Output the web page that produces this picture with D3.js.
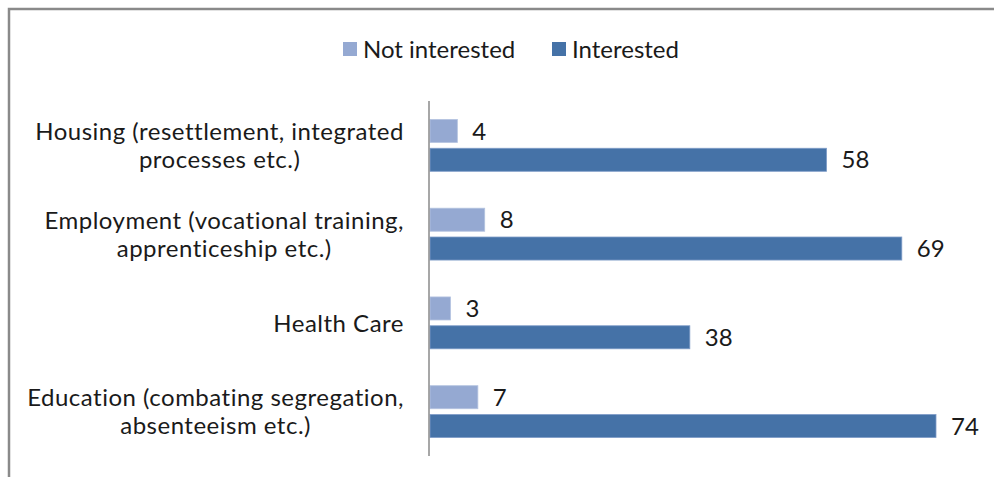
<!DOCTYPE html>
<html>
<head>
<meta charset="utf-8">
<script src="https://cdn.jsdelivr.net/npm/d3@7/dist/d3.min.js"></script>
<style>
  html, body { margin: 0; padding: 0; background: #fff; }
  svg { display: block; }
  text { font-family: Lato, "Open Sans", sans-serif; fill: #1a1a1a; }
</style>
</head>
<body>
<svg id="chart" width="994" height="477"></svg>
<script>
const categories = [
  ["Housing (resettlement, integrated", "processes etc.)"],
  ["Employment (vocational training,", "apprenticeship etc.)"],
  ["Health Care"],
  ["Education (combating segregation,", "absenteeism etc.)"]
];
const seriesNames = ["Not interested", "Interested"];
const notInterested = [4, 8, 3, 7];
const interested = [58, 69, 38, 74];
const seriesColors = ["#95A9D2", "#4572A7"];

const svg = d3.select("#chart");
const W = 994, H = 477;
const fontSize = 24;

// frame
svg.append("rect")
  .attr("x", 9).attr("y", 9)
  .attr("width", W + 20).attr("height", H + 20)
  .attr("fill", "#fff")
  .attr("stroke", "#8a8a8a")
  .attr("stroke-width", 2.5);

const plot = { left: 430, top: 101, bottom: 456 };

const x = d3.scaleLinear().domain([0, 74]).range([plot.left, 936]);

const catIdx = d3.range(categories.length);
const y0 = d3.scaleBand()
  .domain(catIdx)
  .range([plot.top, plot.bottom])
  .paddingInner(0.4157)
  .paddingOuter(0.4157 / 2);

const y1 = d3.scaleBand()
  .domain(d3.range(seriesNames.length))
  .range([0, y0.bandwidth()])
  .paddingInner(0.2);

const seriesData = [notInterested, interested];

// bars
const groups = svg.append("g").selectAll("g")
  .data(catIdx)
  .join("g")
  .attr("transform", i => `translate(0,${y0(i)})`);

groups.each(function(i) {
  const g = d3.select(this);
  seriesData.forEach((vals, s) => {
    g.append("rect")
      .attr("x", x(0))
      .attr("y", y1(s))
      .attr("width", x(vals[i]) - x(0))
      .attr("height", y1.bandwidth())
      .attr("fill", seriesColors[s])
      .attr("stroke", s === 0 ? "#b4c3e0" : "#7f9cc8")
      .attr("stroke-width", 0.8);
    g.append("text")
      .attr("x", x(vals[i]) + 15)
      .attr("y", y1(s) + y1.bandwidth() / 2)
      .attr("dy", "0.36em")
      .attr("font-size", fontSize)
      .text(vals[i]);
  });
});

// axis line (category axis)
const yAxis = d3.axisLeft(y0).tickSize(0).tickFormat(() => "");
const axG = svg.append("g").attr("transform", `translate(${plot.left - 1},0)`).call(yAxis);
axG.select(".domain").attr("stroke", "#8a8a8a").attr("stroke-width", 1.5)
  .attr("d", `M0,${plot.top}V${plot.bottom}`);

// category labels: block right-aligned, lines centered within block
const labelRight = 404;
const lineH = 28;
catIdx.forEach(i => {
  const lines = categories[i];
  const cy = y0(i) + y0.bandwidth() / 2;
  const tg = svg.append("g");
  const texts = lines.map((ln, k) => tg.append("text")
    .attr("font-size", fontSize)
    .attr("letter-spacing", "0.5px")
    .attr("y", cy + (k - (lines.length - 1) / 2) * lineH)
    .attr("dy", "0.36em")
    .attr("text-anchor", "middle")
    .text(ln));
  const maxW = d3.max(texts, t => t.node().getComputedTextLength());
  texts.forEach(t => t.attr("x", labelRight - maxW / 2));
});

// legend
const legend = svg.append("g");
const legItems = [{ x: 343, name: seriesNames[0], c: seriesColors[0] },
                  { x: 552, name: seriesNames[1], c: seriesColors[1] }];
legItems.forEach(d => {
  legend.append("rect").attr("x", d.x).attr("y", 42).attr("width", 14).attr("height", 14).attr("fill", d.c);
  legend.append("text").attr("x", d.x + 20).attr("y", 49).attr("dy", "0.36em")
    .attr("font-size", fontSize).text(d.name);
});
</script>
</body>
</html>
